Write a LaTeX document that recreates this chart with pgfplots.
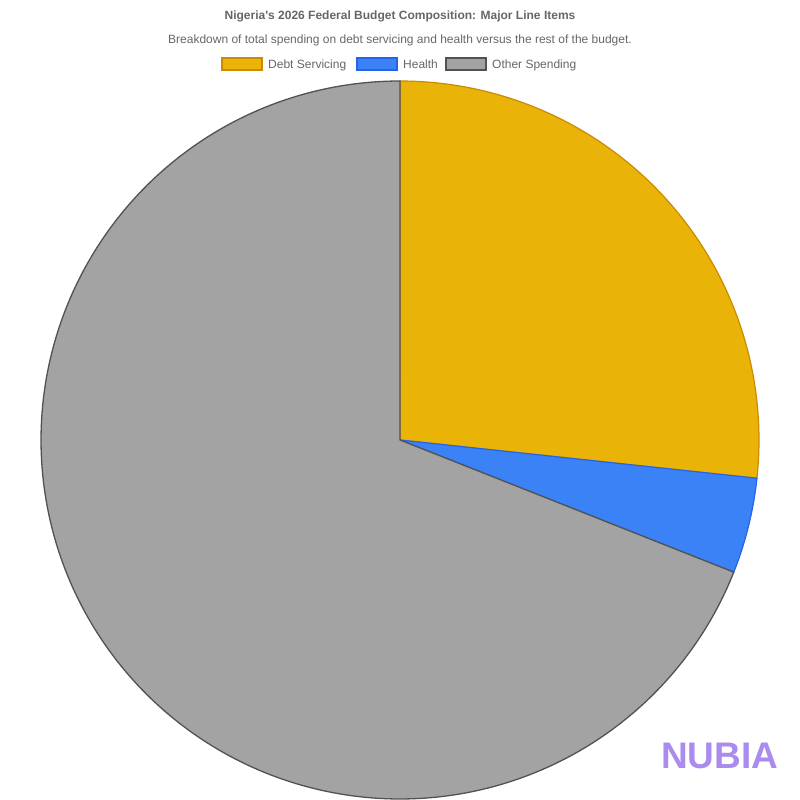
\documentclass[border=0pt]{standalone}
\usepackage{pgfplots}
\pgfplotsset{compat=1.18}
\usepackage{fontspec}
\setmainfont{Liberation Sans}[Ligatures=TeXOff]
\definecolor{debtfill}{RGB}{234,179,8}
\definecolor{debtdraw}{RGB}{202,138,4}
\definecolor{healthfill}{RGB}{59,130,246}
\definecolor{healthdraw}{RGB}{37,99,235}
\definecolor{otherfill}{RGB}{163,163,163}
\definecolor{otherdraw}{RGB}{82,82,82}
\definecolor{txt}{RGB}{102,102,102}
\definecolor{logo}{RGB}{170,140,238}
% shares of the budget (percent)
\def\vDebt{26.7}
\def\vHealth{4.3}
\def\vOther{69.0}
\begin{document}
\begin{tikzpicture}
\pgfmathsetmacro{\tot}{\vDebt+\vHealth+\vOther}
\pgfmathsetmacro{\aA}{90}
\pgfmathsetmacro{\aB}{90-360*(\vDebt/\tot)}
\pgfmathsetmacro{\aC}{\aB-360*(\vHealth/\tot)}
\pgfmathsetmacro{\aD}{\aC-360*(\vOther/\tot)}
\begin{axis}[
  scale only axis, width=800pt, height=800pt,
  xmin=0, xmax=800, ymin=0, ymax=800,
  hide axis, clip=false,
]
\path[use as bounding box] (axis cs:0,0) rectangle (axis cs:800,800);
\addplot[fill=debtfill, draw=debtdraw, line width=1.2pt, domain=\aB:\aA, samples=120, variable=\t]
  ({400+359*cos(t)},{360+359*sin(t)}) -- (axis cs:400,360) -- cycle;
\addplot[fill=healthfill, draw=healthdraw, line width=1.2pt, domain=\aC:\aB, samples=40, variable=\t]
  ({400+359*cos(t)},{360+359*sin(t)}) -- (axis cs:400,360) -- cycle;
\addplot[fill=otherfill, draw=otherdraw, line width=1.3pt, domain=\aD:\aC, samples=240, variable=\t]
  ({400+359*cos(t)},{360+359*sin(t)}) -- (axis cs:400,360) -- cycle;
% titles
\node[font=\bfseries\fontsize{12}{14}\selectfont, text=txt] at (axis cs:400,783.5) {Nigeria's 2026 Federal Budget Composition: Major Line Items};
\node[font=\fontsize{12}{14}\selectfont, text=txt] at (axis cs:400,760) {Breakdown of total spending on debt servicing and health versus the rest of the budget.};
% legend
\draw[fill=debtfill, draw=debtdraw, line width=1.2pt] (axis cs:222,730) rectangle (axis cs:262,742);
\node[anchor=base west, font=\fontsize{12}{14}\selectfont, text=txt, inner sep=0pt] at (axis cs:268,731.7) {Debt Servicing};
\draw[fill=healthfill, draw=healthdraw, line width=1.2pt] (axis cs:357,730) rectangle (axis cs:397,742);
\node[anchor=base west, font=\fontsize{12}{14}\selectfont, text=txt, inner sep=0pt] at (axis cs:403,731.7) {Health};
\draw[fill=otherfill, draw=otherdraw, line width=1.2pt] (axis cs:446,730) rectangle (axis cs:486,742);
\node[anchor=base west, font=\fontsize{12}{14}\selectfont, text=txt, inner sep=0pt] at (axis cs:492,731.7) {Other Spending};
% watermark
\node[anchor=base west, font=\bfseries\fontsize{37}{40}\selectfont, text=logo, inner sep=0pt] at (axis cs:661,31) {NUBIA};
\end{axis}
\end{tikzpicture}
\end{document}
